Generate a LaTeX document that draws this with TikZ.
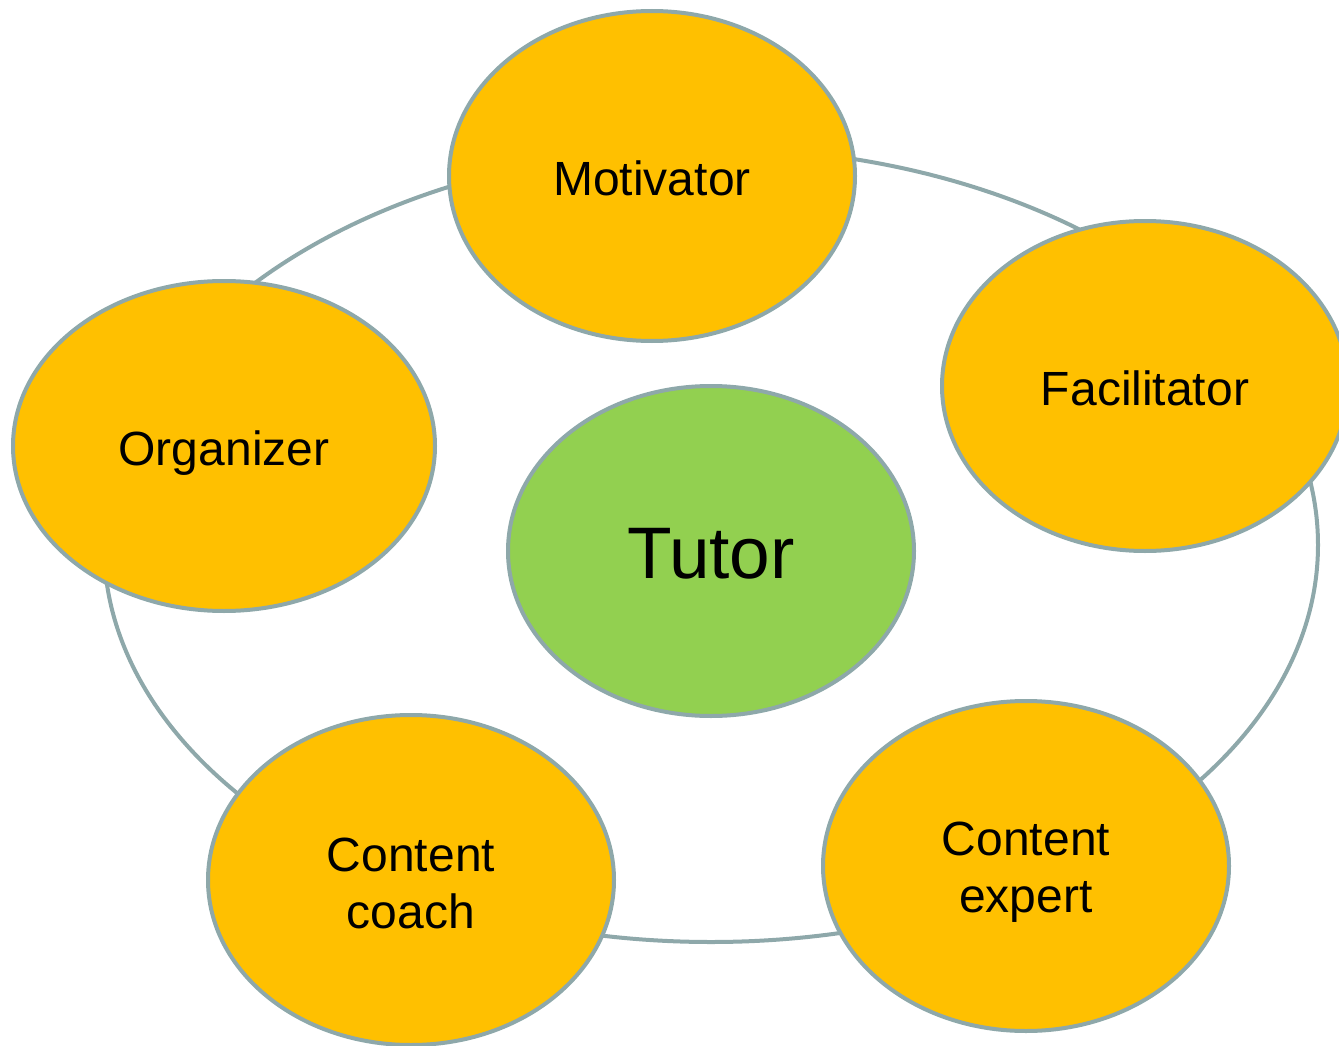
\documentclass[tikz,border=0pt]{standalone}
\usepackage{fontspec}
\setmainfont{Liberation Sans}
\usetikzlibrary{shapes.geometric}
\definecolor{ringc}{RGB}{142,168,170}
\definecolor{orangef}{RGB}{255,192,0}
\definecolor{greenf}{RGB}{146,208,80}
\newcommand{\lowered}[2]{\raisebox{-#1}[\height][\depth]{#2}}
\newcommand{\twolines}[3]{\raisebox{-#1}[\height][\depth]{\begin{tabular}{@{}c@{}}#2\\#3\end{tabular}}}
\tikzset{
  role/.style={ellipse, draw=ringc, line width=4pt, fill=orangef, minimum width=406pt, minimum height=330pt, inner sep=0pt, align=center, font=\fontsize{48}{57}\selectfont},
  hub/.style={role, fill=greenf, font=\fontsize{73}{80}\selectfont},
  ringline/.style={draw=ringc, line width=4pt}
}
\begin{document}
\begin{tikzpicture}[x=1pt,y=-1pt]
\useasboundingbox (0,0) rectangle (1339,1046);
\clip (0,0) rectangle (1339,1046);
\coordinate (ringcenter) at (711,545);
\draw[ringline] (ringcenter) ellipse [x radius=607, y radius=397];
\node[role] (mot) at (652,176) {\lowered{2pt}{Motivator}};
\node[role] (fac) at (1145,386) {\lowered{2pt}{Facilitator}};
\node[role, minimum width=422pt] (org) at (224,446) {\lowered{7pt}{Organizer}};
\node[hub] (tut) at (711,551) {\lowered{3pt}{Tutor}};
\node[role] (coach) at (411,880) {\twolines{9pt}{Content}{coach}};
\node[role] (exp) at (1026,866) {\twolines{7pt}{Content}{expert}};
\end{tikzpicture}
\end{document}
